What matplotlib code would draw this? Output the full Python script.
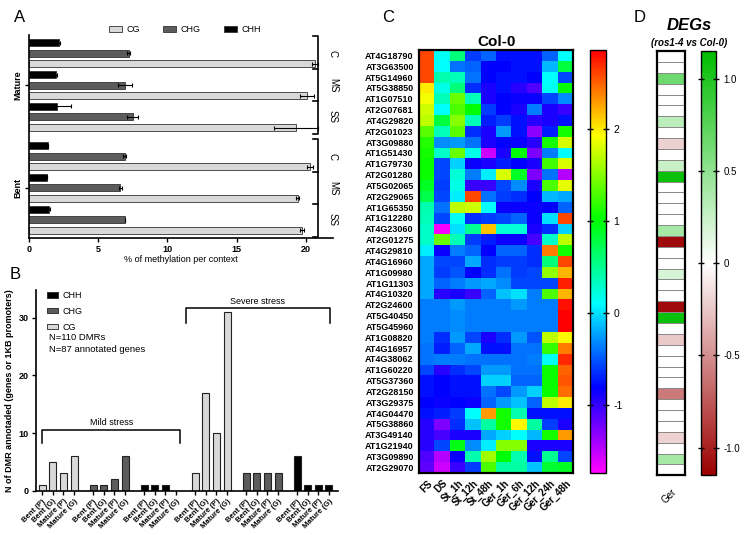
import numpy as np
import matplotlib
matplotlib.use('Agg')
import matplotlib.pyplot as plt
from matplotlib.colors import LinearSegmentedColormap, hsv_to_rgb
from matplotlib.patches import Patch
import matplotlib.transforms as mtransforms

plt.rcParams['font.family'] = ['Liberation Sans', 'DejaVu Sans']
plt.rcParams['axes.linewidth'] = 1.2

W, H = 746, 535
fig = plt.figure(figsize=(W / 100, H / 100), dpi=100)


def rect(l, t, r, b):
    return [l / W, 1 - b / H, (r - l) / W, (b - t) / H]


def ftext(x, y, s, **kw):
    fig.text(x / W, 1 - y / H, s, **kw)


# ---------------- DATA ----------------
# Panel A: % methylation, conditions C, MS, SS
a_conditions = ['C', 'MS', 'SS']
a_tissues = ['Mature', 'Bent']
a_mature_chh = [2.15, 1.95, 2.05]
a_mature_chh_err = [0.1, 0.1, 1.0]
a_mature_chg = [7.2, 6.95, 7.5]
a_mature_chg_err = [0.1, 0.5, 0.4]
a_mature_cg = [20.65, 20.05, 19.3]
a_mature_cg_err = [0.2, 0.5, 1.6]
a_bent_chh = [1.4, 1.3, 1.45]
a_bent_chh_err = [0.0, 0.0, 0.1]
a_bent_chg = [6.9, 6.6, 6.9]
a_bent_chg_err = [0.1, 0.1, 0.0]
a_bent_cg = [20.3, 19.4, 19.7]
a_bent_cg_err = [0.2, 0.1, 0.15]

# Panel B: N of DMR annotated
b_labels = ['Bent (P)', 'Bent (G)', 'Mature (P)', 'Mature (G)']
b_mild_cg = [1, 5, 3, 6]
b_mild_chg = [1, 1, 2, 6]
b_mild_chh = [1, 1, 1, 0]
b_severe_cg = [3, 17, 10, 31]
b_severe_chg = [3, 3, 3, 3]
b_severe_chh = [6, 1, 1, 1]

# Panel C: heatmap Col-0
c_columns = ['FS', 'DS', 'St_1h', 'St_12h', 'St_48h', 'Ger_1h', 'Ger_6h',
             'Ger_12h', 'Ger_24h', 'Ger_48h']
c_genes = ['AT4G18790', 'AT3G63500', 'AT5G14960', 'AT5G38850', 'AT1G07510',
           'AT2G07681', 'AT4G29820', 'AT2G01023', 'AT3G09880', 'AT1G51430',
           'AT1G79730', 'AT2G01280', 'AT5G02065', 'AT2G29065', 'AT1G65350',
           'AT1G12280', 'AT4G23060', 'AT2G01275', 'AT4G29810', 'AT4G16960',
           'AT1G09980', 'AT1G11303', 'AT4G10320', 'AT2G24600', 'AT5G40450',
           'AT5G45960', 'AT1G08820', 'AT4G16957', 'AT4G38062', 'AT1G60220',
           'AT5G37360', 'AT2G28150', 'AT3G29375', 'AT4G04470', 'AT5G38860',
           'AT3G49140', 'AT1G21940', 'AT3G09890', 'AT2G29070']
c_values = [
    [2.6, 0.15, 0.6, -0.6, -0.45, -0.75, -0.75, -0.75, -0.45, 0.1],
    [2.6, 0.1, -0.4, -0.45, -0.8, -0.8, -0.75, -0.75, -0.15, 0.8],
    [2.6, 0.4, 0.35, -0.4, -0.8, -0.75, -0.75, -0.8, 0.1, -0.55],
    [2.0, 0.2, 0.6, -0.65, -0.9, -0.75, -0.95, -1.1, 0.15, 1.0],
    [1.9, 0.35, 1.4, 0.35, -0.9, -0.8, -0.85, -0.85, -0.55, -0.3],
    [1.75, 0.1, 1.3, 1.0, -0.6, -0.8, -0.9, -0.35, -0.9, -1.0],
    [1.7, 0.8, 1.5, 0.35, -0.7, -0.6, -0.75, -0.95, -0.9, -0.75],
    [1.35, 0.35, 1.35, -0.65, -0.9, -0.25, -0.75, -1.3, -0.7, 1.1],
    [1.15, -0.3, -0.25, -0.4, -0.9, -0.8, -0.85, -0.95, 1.1, 1.8],
    [1.1, 0.3, 1.4, 0.2, -1.55, -0.9, 1.0, -1.25, -0.35, 0.1],
    [1.05, -0.55, -0.05, -0.85, -0.9, -0.7, -0.8, -0.9, 1.25, 1.8],
    [1.05, -0.55, 0.25, -0.35, 0.05, 1.8, 0.9, -1.25, -0.4, -1.45],
    [0.9, -0.6, 0.2, -1.0, -1.0, -0.55, -0.3, -0.9, 1.3, 1.85],
    [0.75, -0.55, 0.05, 2.6, -0.4, -0.6, -0.65, -0.8, -0.15, -0.2],
    [0.4, -0.4, 1.7, 1.75, 0.1, -0.85, -0.85, -0.85, -0.8, -0.45],
    [0.35, -0.55, 0.15, -0.65, -0.6, -0.55, -0.45, -0.85, 0.0, 2.6],
    [0.3, -1.7, 0.0, 0.5, 2.15, 0.25, 0.25, -0.9, -0.65, -0.05],
    [0.3, 1.4, 0.35, -0.6, -0.7, -0.85, -0.85, -1.05, 0.3, 1.7],
    [0.05, -0.85, -0.35, -0.45, -0.8, -0.45, -0.45, -0.65, 2.4, 1.1],
    [-0.2, -0.55, -0.55, -0.2, -0.65, -0.6, -0.6, -0.65, 0.6, 2.6],
    [-0.2, -0.6, -0.5, -0.8, -0.65, -0.4, -0.6, -0.55, 1.55, 2.2],
    [-0.2, -0.45, -0.35, -0.25, -0.2, -0.3, -0.55, -0.55, -0.55, 2.75],
    [-0.2, -0.95, -0.9, -1.0, -0.45, -0.1, 0.0, -0.35, 1.3, 2.2],
    [-0.35, -0.35, -0.25, -0.35, -0.35, -0.35, -0.25, -0.35, -0.35, 2.8],
    [-0.35, -0.35, -0.3, -0.35, -0.35, -0.35, -0.35, -0.35, -0.35, 2.85],
    [-0.35, -0.35, -0.3, -0.35, -0.35, -0.35, -0.35, -0.35, -0.35, 2.85],
    [-0.35, -0.65, -0.25, -0.55, -0.9, -0.65, -0.25, -0.5, 1.7, 1.95],
    [-0.4, -0.7, -0.45, -0.2, -0.75, -0.75, -0.4, -0.4, 1.2, 2.4],
    [-0.4, -0.35, -0.35, -0.4, -0.4, -0.4, -0.4, -0.35, 0.15, 2.7],
    [-0.55, -0.95, -0.65, -0.55, -0.25, -0.25, -0.4, -0.4, 1.05, 2.5],
    [-0.75, -0.8, -0.75, -0.75, -0.05, -0.05, -0.45, -0.45, 1.05, 2.55],
    [-0.75, -0.8, -0.75, -0.75, -0.4, -0.55, -0.25, -0.05, 1.05, 2.45],
    [-0.8, -0.85, -0.8, -0.85, -0.45, -0.25, -0.1, -0.45, 1.7, 2.0],
    [-0.75, -0.7, -0.6, 0.1, 2.3, 1.1, 0.4, -0.75, -0.75, -0.75],
    [-0.95, -1.25, -0.65, -0.1, 0.45, 1.1, 1.95, 0.45, -0.6, -0.9],
    [-0.95, -1.05, -0.9, -0.9, -0.2, -0.05, 0.1, -0.15, 1.1, 2.3],
    [-0.95, -0.55, 0.95, -0.3, 0.05, 1.5, 1.5, -0.9, -0.9, -0.9],
    [-1.1, -1.45, -0.85, 0.4, 1.6, 1.0, 0.4, -0.75, 0.5, -0.55],
    [-1.15, -1.55, -1.0, -0.6, 1.3, 0.45, 0.45, -0.1, 0.85, 0.9],
]
c_vmin, c_vmax = -1.73, 2.86
c_ticks = [-1, 0, 1, 2]

# Panel D: DEGs (ros1-4 vs Col-0), one value per gene row
d_values = [0, 0, 0.65, 0, 0, 0, 0.3, 0, -0.2, 0,
            0.25, 1.1, 0, 0, 0, 0, 0.4, -1.1, 0, 0,
            0.18, 0, 0, -1.1, 1.1, 0, -0.25, 0, 0, 0,
            0, -0.6, 0, 0, 0, -0.2, 0, 0.4, 0]
d_column = ['Ger']
d_vmin, d_vmax = -1.15, 1.15
d_ticks = [-1.0, -0.5, 0, 0.5, 1.0]

COL_CG = '#d9d9d9'
COL_CHG = '#5c5c5c'
COL_CHH = '#000000'

# ---------------- PANEL A ----------------
axA = fig.add_axes(rect(29, 35, 333, 237.7))
grp_off = 9.7
series_A = [
    (a_mature_chh, a_mature_chh_err, a_bent_chh, a_bent_chh_err, COL_CHH, 0),
    (a_mature_chg, a_mature_chg_err, a_bent_chg, a_bent_chg_err, COL_CHG, 1),
    (a_mature_cg, a_mature_cg_err, a_bent_cg, a_bent_cg_err, COL_CG, 2),
]
for m, me, b, be, col, k in series_A:
    for t, (vals, errs) in enumerate([(m, me), (b, be)]):
        pos = [t * grp_off + c * 3 + k for c in range(3)]
        axA.barh(pos, vals, height=0.66, color=col, edgecolor='#333333',
                 linewidth=0.6, xerr=errs,
                 error_kw=dict(ecolor='black', elinewidth=0.8, capsize=1.6,
                               capthick=0.8))
axA.set_xlim(0, 21.95)
axA.set_ylim(18.4, -0.73)
axA.spines['top'].set_visible(False)
axA.spines['right'].set_visible(False)
axA.set_xticks([0, 5, 10, 15, 20])
axA.set_xticklabels(['0', '5', '10', '15', '20'], fontsize=6.5, fontweight='bold')
axA.set_yticks([4, grp_off + 4])
axA.set_yticklabels(a_tissues, rotation=90, va='center', fontsize=6.5,
                    fontweight='bold')
axA.tick_params(axis='both', length=3, width=1, pad=2)
axA.set_xlabel('% of methylation per context', fontsize=6.5, labelpad=1)

trA = mtransforms.blended_transform_factory(axA.transAxes, axA.transData)
xv, xt = 0.952, 0.935
for t in range(2):
    base = t * grp_off
    top, bot = base - 0.62, base + 8.6
    seps = [base + 2.5, base + 5.5]
    axA.plot([xt, xv, xv, xt], [top, top, bot, bot], transform=trA,
             color='black', lw=1.2, clip_on=False)
    for s in seps:
        axA.plot([xt, xv], [s, s], transform=trA, color='black', lw=1.2,
                 clip_on=False)
    for c, lab in enumerate(a_conditions):
        axA.text(1.0, base + c * 3 + 1, lab, transform=trA, rotation=-90,
                 ha='center', va='center', fontsize=7)

legA = [Patch(facecolor=COL_CG, edgecolor='#333333', lw=0.6, label='CG'),
        Patch(facecolor=COL_CHG, edgecolor='#333333', lw=0.6, label='CHG'),
        Patch(facecolor=COL_CHH, edgecolor='#333333', lw=0.6, label='CHH')]
fig.legend(handles=legA, loc='center', bbox_to_anchor=(185 / W, 1 - 29.5 / H),
           ncol=3, fontsize=6.5, frameon=False, handlelength=1.45,
           handleheight=0.55, columnspacing=2.6, handletextpad=0.5)

# ---------------- PANEL B ----------------
axB = fig.add_axes(rect(35.7, 290, 338, 490.7))
g_step = 4.81
groups_B = [(b_mild_cg, COL_CG), (b_mild_chg, COL_CHG), (b_mild_chh, COL_CHH),
            (b_severe_cg, COL_CG), (b_severe_chg, COL_CHG),
            (b_severe_chh, COL_CHH)]
xt_pos, xt_lab = [], []
for g, (vals, col) in enumerate(groups_B):
    pos = [g * g_step + i for i in range(4)]
    axB.bar(pos, vals, width=0.66, color=col, edgecolor='#222222', linewidth=0.8)
    xt_pos += pos
    xt_lab += b_labels
axB.set_xlim(-0.62, 27.9)
axB.set_ylim(0, 34.8)
axB.spines['top'].set_visible(False)
axB.spines['right'].set_visible(False)
axB.set_yticks([0, 10, 20, 30])
axB.set_yticklabels(['0', '10', '20', '30'], fontsize=6.5, fontweight='bold')
axB.set_xticks(xt_pos)
axB.set_xticklabels(xt_lab, rotation=45, ha='right', rotation_mode='anchor',
                    fontsize=5.5, fontweight='bold')
axB.tick_params(axis='both', length=3, width=1, pad=2)
axB.set_ylabel('N of DMR annotaded (genes or 1KB promoters)', fontsize=6.5,
               fontweight='bold', labelpad=3)

# brackets
axB.plot([0, 0, 13.0, 13.0], [8.2, 10.5, 10.5, 8.2], color='black', lw=1.1)
axB.text(6.5, 11.0, 'Mild stress', ha='center', va='bottom', fontsize=6.5)
axB.plot([13.6, 13.6, 27.1, 27.1], [29.1, 31.6, 31.6, 29.1], color='black',
         lw=1.1, clip_on=False)
axB.text(20.35, 32.1, 'Severe stress', ha='center', va='bottom', fontsize=6.5)

legB = [Patch(facecolor=COL_CHH, edgecolor='#222222', lw=0.6, label='CHH'),
        Patch(facecolor=COL_CHG, edgecolor='#222222', lw=0.6, label='CHG'),
        Patch(facecolor=COL_CG, edgecolor='#222222', lw=0.6, label='CG')]
axB.legend(handles=legB, loc='upper left', bbox_to_anchor=(0.01, 1.035),
           fontsize=6.5, frameon=False, handlelength=1.25, handleheight=0.55,
           labelspacing=0.75, handletextpad=0.5)
ftext(49, 337, 'N=110 DMRs', fontsize=6.8, va='center')
ftext(49, 349, 'N=87 annotated genes', fontsize=6.8, va='center')

# ---------------- PANEL C ----------------
hues = np.linspace(300 / 360, 0, 21)
cmapC = LinearSegmentedColormap.from_list(
    'rainbowC', [hsv_to_rgb((h, 1, 1)) for h in hues])
axC = fig.add_axes(rect(419.3, 50, 573.3, 472.7))
imC = axC.imshow(np.array(c_values), aspect='auto', cmap=cmapC, vmin=c_vmin,
                 vmax=c_vmax, interpolation='nearest')
axC.set_xticks(range(len(c_columns)))
axC.set_xticklabels(c_columns, rotation=45, ha='right', rotation_mode='anchor',
                    fontsize=7, fontweight='bold')
axC.set_yticks(range(len(c_genes)))
axC.set_yticklabels(c_genes, fontsize=6.5, fontweight='bold')
axC.tick_params(length=0, pad=4)
for sp in axC.spines.values():
    sp.set_linewidth(1.6)
axC.set_title('Col-0', fontsize=11, fontweight='bold', pad=3)

caxC = fig.add_axes(rect(590, 50, 606, 472.7))
cbC = fig.colorbar(imC, cax=caxC)
cbC.set_ticks(c_ticks)
cbC.set_ticklabels([str(t) for t in c_ticks])
cbC.outline.set_linewidth(1.0)
caxC.tick_params(labelsize=7.5, length=4, width=1, direction='inout',
                 left=True, right=True)

# ---------------- PANEL D ----------------
cmapD = LinearSegmentedColormap.from_list('rwg', ['#9c0000', '#ffffff',
                                                  '#00bd00'])
axD = fig.add_axes(rect(657.3, 51, 685.3, 475.3))
dv = np.array(d_values).reshape(-1, 1)
meshD = axD.pcolormesh(dv, cmap=cmapD, vmin=d_vmin, vmax=d_vmax,
                       edgecolors='#8a8a8a', linewidth=0.7)
axD.set_ylim(len(d_values), 0)
axD.set_xlim(0, 1)
axD.set_xticks([0.5])
axD.set_xticklabels(d_column, rotation=45, ha='right', rotation_mode='anchor',
                    fontsize=7)
axD.set_yticks([])
axD.tick_params(length=0, pad=8)
for sp in axD.spines.values():
    sp.set_linewidth(1.6)

caxD = fig.add_axes(rect(700.7, 51, 716, 475.3))
cbD = fig.colorbar(meshD, cax=caxD)
cbD.set_ticks(d_ticks)
cbD.set_ticklabels(['-1.0', '-0.5', '0', '0.5', '1.0'])
cbD.outline.set_linewidth(1.0)
caxD.tick_params(labelsize=7, length=4, width=1, direction='inout',
                 left=True, right=True)

ftext(689, 25, 'DEGs', fontsize=12, fontweight='bold', style='italic',
      ha='center', va='center')
ftext(689, 42.5, '(ros1-4 vs Col-0)', fontsize=7, fontweight='bold',
      style='italic', ha='center', va='center')

# panel letters
ftext(20, 17, 'A', fontsize=12, va='center', ha='center')
ftext(15, 275, 'B', fontsize=12, va='center', ha='center')
ftext(388, 18, 'C', fontsize=12, va='center', ha='center')
ftext(640, 17, 'D', fontsize=12, va='center', ha='center')

fig.savefig('out.png', dpi=100)
